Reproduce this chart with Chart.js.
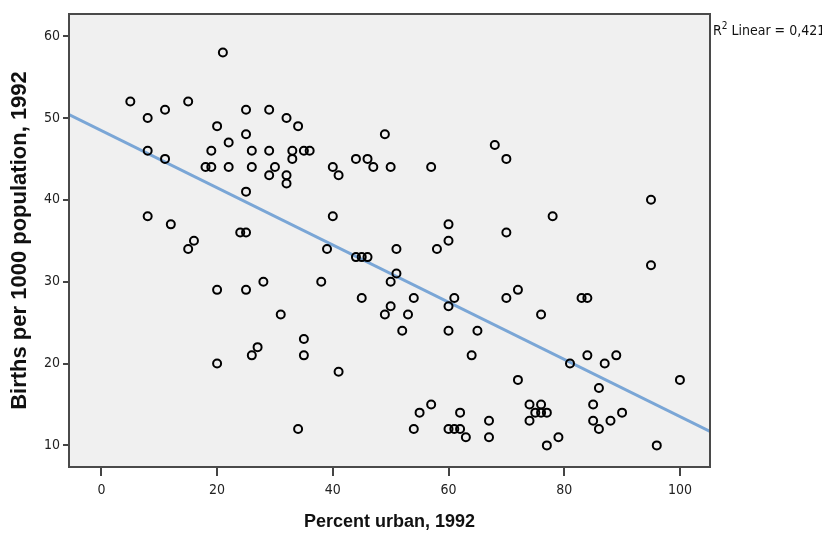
<!DOCTYPE html>
<html>
<head>
<meta charset="utf-8">
<script src="https://cdn.jsdelivr.net/npm/chart.js@4.4.1/dist/chart.umd.min.js"></script>
<style>
html, body { margin: 0; padding: 0; background: #fff; }
</style>
</head>
<body>
<canvas id="grafico" width="822" height="533"></canvas>
<script>
// valores (x = % urbano, y = nascimentos por 1000)
const percentUrban = [
    21, 5, 15, 11, 25, 29, 8, 32, 20, 34, 25, 49, 22, 68,
    8, 19, 26, 29, 33, 35, 36, 11, 33, 44, 46, 70,
    18, 19, 22, 26, 30, 40, 47, 50, 57, 29, 32, 41, 32, 25, 95,
    8, 40, 78, 12, 60, 24, 25, 70, 16, 60, 15, 39, 51, 58,
    44, 45, 46, 95, 51, 28, 38, 50, 20, 25, 72,
    45, 54, 61, 70, 83, 84, 50, 60, 31, 49, 53, 76, 52, 60, 65,
    35, 27, 26, 35, 64, 84, 89, 20, 81, 87, 41, 72, 100, 86,
    57, 74, 76, 85, 55, 62, 75, 76, 77, 90, 67, 74, 85, 88,
    34, 54, 60, 61, 62, 86, 63, 67, 79, 77, 96
];
const birthRate = [
    58, 52, 52, 51, 51, 51, 50, 50, 49, 49, 48, 48, 47, 46.7,
    46, 46, 46, 46, 46, 46, 46, 45, 45, 45, 45, 45,
    44, 44, 44, 44, 44, 44, 44, 44, 44, 43, 43, 43, 42, 41, 40,
    38, 38, 38, 37, 37, 36, 36, 36, 35, 35, 34, 34, 34, 34,
    33, 33, 33, 32, 31, 30, 30, 30, 29, 29, 29,
    28, 28, 28, 28, 28, 28, 27, 27, 26, 26, 26, 26, 24, 24, 24,
    23, 22, 21, 21, 21, 21, 21, 20, 20, 20, 19, 18, 18, 17,
    15, 15, 15, 15, 14, 14, 14, 14, 14, 14, 13, 13, 13, 13,
    12, 12, 12, 12, 12, 12, 11, 11, 11, 10, 10
];
const xTicks = [0, 20, 40, 60, 80, 100];
const yTicks = [10, 20, 30, 40, 50, 60];
const fitX = [-5.6, 105.2];
const fitY = [50.4, 11.7];
const rSquared = '0,421';

const pontos = percentUrban.map((x, i) => ({ x: x, y: birthRate[i] }));
const reta = fitX.map((x, i) => ({ x: x, y: fitY[i] }));

const familiaEstreita = '"Liberation Sans Narrow", "DejaVu Sans Condensed", sans-serif';
const fonteTicks = { family: familiaEstreita, size: 14 };
const familiaTitulo = '"Liberation Sans", Arial, sans-serif';

const moldura = {
    id: 'moldura',
    beforeDraw(chart) {
        const { ctx, chartArea: a } = chart;
        ctx.save();
        ctx.fillStyle = '#f0f0f0';
        ctx.fillRect(a.left, a.top, a.right - a.left, a.bottom - a.top);
        ctx.restore();
    },
    afterDraw(chart) {
        const { ctx, chartArea: a } = chart;
        ctx.save();
        ctx.strokeStyle = '#4a4a4a';
        ctx.lineWidth = 2;
        ctx.strokeRect(a.left, a.top, a.right - a.left, a.bottom - a.top);

        // rótulo do R²
        ctx.fillStyle = '#111';
        ctx.textBaseline = 'alphabetic';
        let x = a.right + 3;
        const y = a.top + 21;
        ctx.font = '14px ' + familiaEstreita;
        ctx.fillText('R', x, y);
        x += ctx.measureText('R').width;
        ctx.font = '10px ' + familiaEstreita;
        ctx.fillText('2', x, y - 6);
        x += ctx.measureText('2').width;
        ctx.font = '14px ' + familiaEstreita;
        ctx.fillText(' Linear = ' + rSquared, x, y);
        ctx.restore();
    }
};

new Chart(document.getElementById('grafico'), {
    type: 'scatter',
    data: {
        datasets: [{
            label: 'Países',
            data: pontos,
            pointStyle: 'circle',
            pointRadius: 4,
            pointBorderWidth: 2,
            pointBackgroundColor: 'rgba(0,0,0,0)',
            pointBorderColor: '#000',
            order: 1
        }, {
            type: 'line',
            label: 'Linear',
            data: reta,
            borderColor: 'rgb(122, 166, 214)',
            borderWidth: 3,
            pointRadius: 0,
            fill: false,
            order: 2
        }]
    },
    plugins: [moldura],
    options: {
        responsive: false,
        animation: false,
        layout: { padding: { left: 7, top: 14, right: 112, bottom: 0 } },
        plugins: {
            legend: { display: false },
            tooltip: { enabled: false }
        },
        scales: {
            x: {
                type: 'linear',
                min: -5.6,
                max: 105.2,
                afterBuildTicks: s => { s.ticks = xTicks.map(v => ({ value: v })); },
                afterFit: s => { s.height = 66; },
                ticks: { font: fonteTicks, color: '#222', padding: 6 },
                grid: { drawOnChartArea: false, tickLength: 9, color: '#444', lineWidth: 2 },
                border: { display: false },
                title: {
                    display: true, text: 'Percent urban, 1992', color: '#111',
                    font: { family: familiaTitulo, size: 18, weight: 'bold' },
                    padding: { top: 4, bottom: 0 }
                }
            },
            y: {
                min: 7.36,
                max: 62.7,
                afterBuildTicks: s => { s.ticks = yTicks.map(v => ({ value: v })); },
                afterFit: s => { s.width = 62; },
                ticks: { font: fonteTicks, color: '#222', padding: 3 },
                grid: { drawOnChartArea: false, tickLength: 6, color: '#444', lineWidth: 2 },
                border: { display: false },
                title: {
                    display: true, text: 'Births per 1000 population, 1992', color: '#111',
                    font: { family: familiaTitulo, size: 22, weight: 'bold' },
                    padding: { top: 0, bottom: 4 }
                }
            }
        }
    }
});
</script>
</body>
</html>
